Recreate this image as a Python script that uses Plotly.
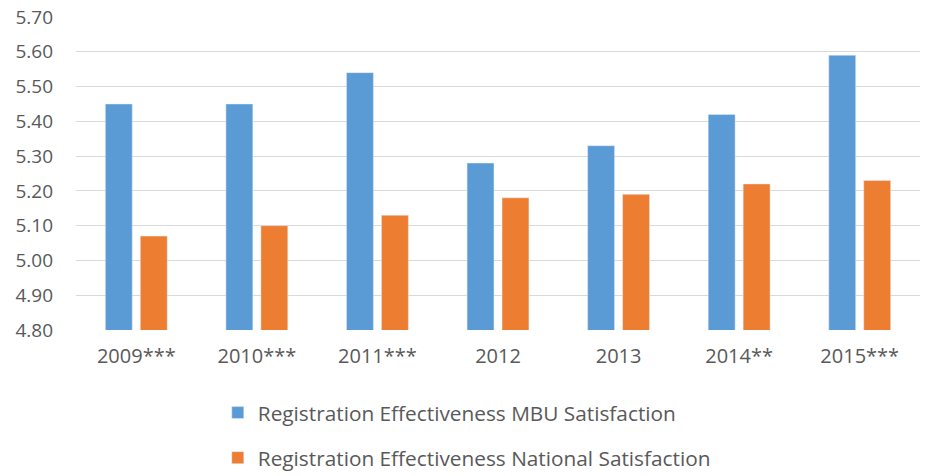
import plotly.graph_objects as go

categories = ["2009***", "2010***", "2011***", "2012", "2013", "2014**", "2015***"]
mbu_values = [5.45, 5.45, 5.54, 5.28, 5.33, 5.42, 5.59]
national_values = [5.07, 5.10, 5.13, 5.18, 5.19, 5.22, 5.23]
y_ticks = [4.80, 4.90, 5.00, 5.10, 5.20, 5.30, 5.40, 5.50, 5.60, 5.70]

FONT = "Open Sans"
TXT = "#595959"

fig = go.Figure()
fig.add_trace(go.Bar(x=categories, y=mbu_values,
                     name="Registration Effectiveness MBU Satisfaction",
                     marker=dict(color="#5B9BD5"), legendgroup="a"))
fig.add_trace(go.Bar(x=categories, y=national_values,
                     name="Registration Effectiveness National Satisfaction",
                     marker=dict(color="#ED7D31"), legendgroup="b"))

fig.update_layout(
    width=925, height=476,
    margin=dict(l=76, r=5, t=17, b=146, autoexpand=False),
    plot_bgcolor="white", paper_bgcolor="white",
    barmode="group", bargap=0.42, bargroupgap=0.23,
    font=dict(family=FONT, size=19, color=TXT),
    showlegend=True,
    legend=dict(orientation="v", x=0.168, xanchor="left", y=-0.2, yanchor="top",
                tracegroupgap=15, font=dict(family=FONT, size=20.8, color=TXT)),
    xaxis=dict(showgrid=False, showline=False, ticks="", ticklabelstandoff=12,
               tickfont=dict(family=FONT, size=20, color=TXT)),
    yaxis=dict(range=[4.80, 5.70], tickvals=y_ticks,
               ticktext=[f"{v:.2f}" for v in y_ticks],
               showgrid=True, gridcolor="#D9D9D9", gridwidth=1.3,
               zeroline=False, showline=False, ticks="", ticklabelstandoff=22,
               tickfont=dict(family=FONT, size=19, color=TXT)),
)
fig.write_html("out.html")
